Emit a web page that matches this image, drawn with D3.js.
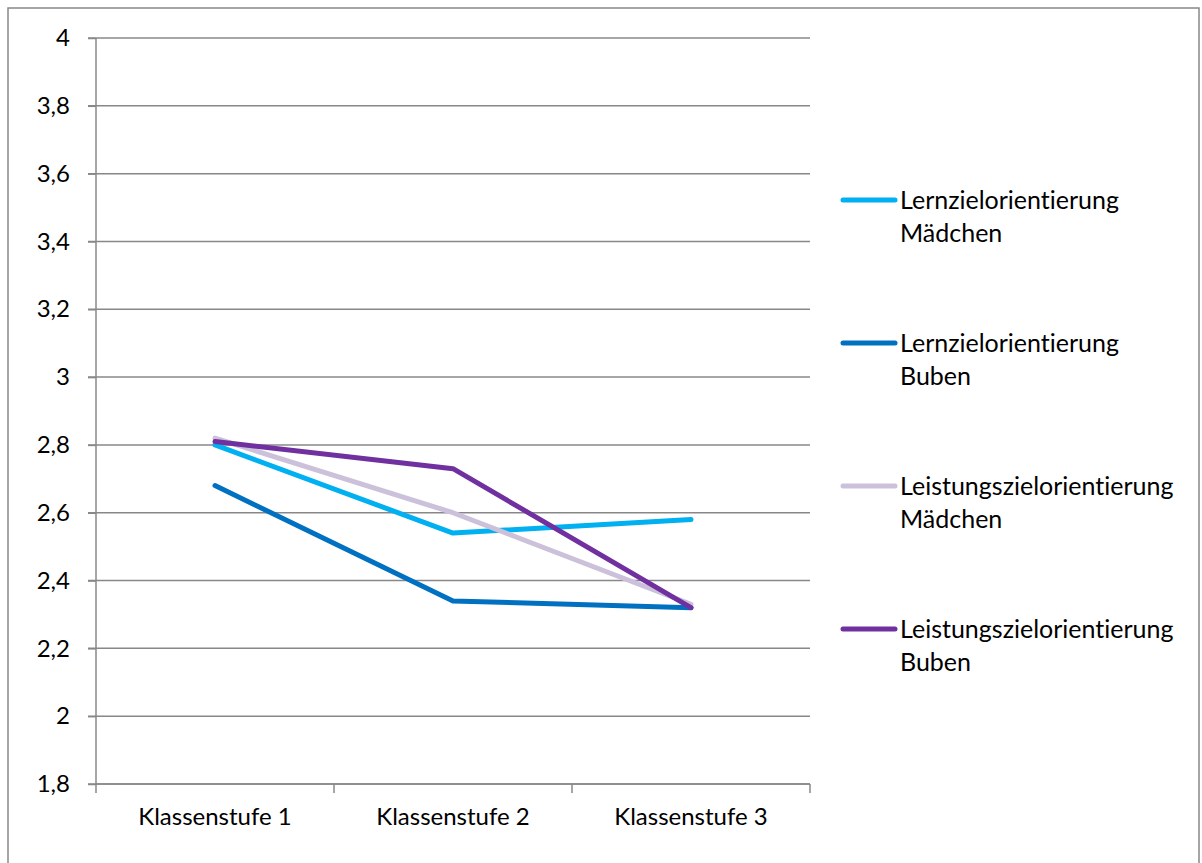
<!DOCTYPE html>
<html>
<head>
<meta charset="utf-8">
<script src="https://cdn.jsdelivr.net/npm/d3@7"></script>
<style>
  html, body { margin: 0; padding: 0; background: #fff; }
  svg { display: block; }
  text { font-family: Lato, "Noto Sans", sans-serif; fill: #000; font-variant-ligatures: none; }
</style>
</head>
<body>
<svg id="chart" width="1202" height="863"></svg>
<script>
// Klassenstufen on the category axis
const categories = ["Klassenstufe 1", "Klassenstufe 2", "Klassenstufe 3"];

// Mean orientation scores per grade level
const lernzielMaedchen = [2.80, 2.54, 2.58];
const lernzielBuben = [2.68, 2.34, 2.32];
const leistungszielMaedchen = [2.82, 2.60, 2.33];
const leistungszielBuben = [2.81, 2.73, 2.32];

const seriesNames = [
  ["Lernzielorientierung", "Mädchen"],
  ["Lernzielorientierung", "Buben"],
  ["Leistungszielorientierung", "Mädchen"],
  ["Leistungszielorientierung", "Buben"]
];
const seriesColors = ["#00B0F0", "#0070C0", "#CCC1DA", "#7030A0"];
const yTicks = [1.8, 2, 2.2, 2.4, 2.6, 2.8, 3, 3.2, 3.4, 3.6, 3.8, 4];

const series = [lernzielMaedchen, lernzielBuben, leistungszielMaedchen, leistungszielBuben]
  .map((values, i) => ({ name: seriesNames[i], color: seriesColors[i], values }));

const svg = d3.select("#chart");
const plotLeft = 96, plotRight = 810, plotTop = 38, plotBottom = 784;
const fontStack = "Lato, 'Noto Sans', sans-serif";

// outer frame of the chart area
svg.append("rect")
  .attr("x", 8).attr("y", 8).attr("width", 1191).attr("height", 870)
  .attr("fill", "none").attr("stroke", "#888").attr("stroke-width", 1.5);

const x = d3.scaleBand().domain(categories).range([plotLeft, plotRight]);
const y = d3.scaleLinear().domain([1.8, 4]).range([plotBottom, plotTop]);

// horizontal gridlines
svg.append("g").selectAll("line").data(yTicks).join("line")
  .attr("x1", plotLeft - 8).attr("x2", plotRight)
  .attr("y1", d => y(d)).attr("y2", d => y(d))
  .attr("stroke", "#888").attr("stroke-width", 1.5);

// y axis
const yAxis = svg.append("g").attr("transform", `translate(${plotLeft},0)`)
  .call(d3.axisLeft(y).tickValues(yTicks).tickSize(8).tickPadding(18)
    .tickFormat(d => String(d).replace(".", ",")));
yAxis.select(".domain").attr("stroke", "#888").attr("stroke-width", 1.5).attr("d", `M0,${plotTop}V${plotBottom}`);
yAxis.selectAll(".tick line").attr("stroke", "#888").attr("stroke-width", 1.5);
yAxis.selectAll(".tick text").attr("font-size", 24).attr("fill", "#000")
  .style("font-family", fontStack);

// x axis with ticks on band boundaries
const xAxis = svg.append("g").attr("transform", `translate(0,${plotBottom})`)
  .call(d3.axisBottom(x).tickSize(0).tickPadding(24));
xAxis.select(".domain").attr("stroke", "#888").attr("stroke-width", 1.5).attr("d", `M${plotLeft},0H${plotRight}`);
xAxis.selectAll(".tick text").attr("font-size", 24).attr("fill", "#000")
  .style("font-family", fontStack);
const bounds = categories.map(c => x(c)).concat([x(categories[categories.length - 1]) + x.bandwidth()]);
svg.append("g").selectAll("line").data(bounds).join("line")
  .attr("x1", d => d).attr("x2", d => d)
  .attr("y1", plotBottom).attr("y2", plotBottom + 9)
  .attr("stroke", "#888").attr("stroke-width", 1.5);

// series lines
const line = d3.line()
  .x((d, i) => x(categories[i]) + x.bandwidth() / 2)
  .y(d => y(d));
svg.append("g").selectAll("path").data(series).join("path")
  .attr("d", d => line(d.values))
  .attr("fill", "none")
  .attr("stroke", d => d.color)
  .attr("stroke-width", 5)
  .attr("stroke-linecap", "round")
  .attr("stroke-linejoin", "round");

// legend
const legend = svg.append("g").selectAll("g").data(series).join("g")
  .attr("transform", (d, i) => `translate(841,${200 + i * 143})`);
legend.append("line")
  .attr("x1", 2).attr("x2", 54).attr("y1", 0).attr("y2", 0)
  .attr("stroke", d => d.color).attr("stroke-width", 5).attr("stroke-linecap", "round");
legend.append("text")
  .attr("x", 59).attr("y", 0).attr("font-size", 25)
  .selectAll("tspan").data(d => d.name).join("tspan")
  .attr("x", 59).attr("dy", (d, i) => i === 0 ? "0.35em" : 33)
  .text(d => d);
</script>
</body>
</html>
